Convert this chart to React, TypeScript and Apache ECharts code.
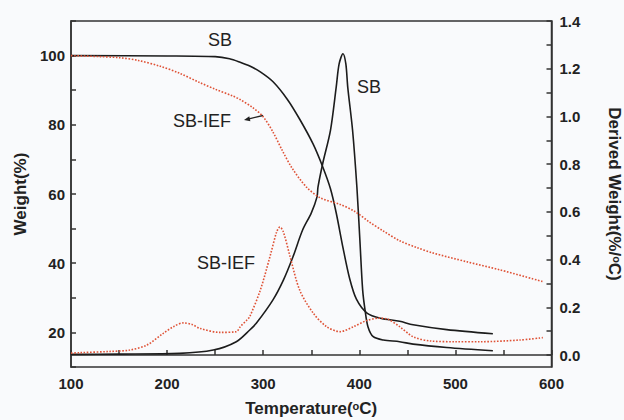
import React, { useEffect, useRef } from "react";
import * as echarts from "echarts";

// SB weight loss (TGA), left axis
const sbTgaTemp = [100, 200, 250, 265, 276, 286, 297, 310, 325, 338, 352, 362, 370, 376, 383, 390, 397, 408, 422, 442, 456, 491, 539];
const sbTgaWeight = [100, 99.9, 99.7, 99.1, 98.1, 97.0, 95.3, 92.5, 87.4, 81.6, 74.4, 67.8, 61.5, 54.5, 44.5, 35.5, 29.6, 25.6, 24.1, 23.2, 22.2, 20.8, 19.6];

// SB derivative weight (DTG), right axis
const sbDtgTemp = [100, 150, 213, 248, 272, 286, 293, 310, 321, 331, 341, 350, 356, 357, 362, 370, 376, 379, 383, 386, 388, 393, 397.5, 400.6, 403.5, 406, 409, 414.5, 425, 442, 456, 491, 539];
const sbDtgValue = [0.003, 0.004, 0.007, 0.021, 0.056, 0.105, 0.134, 0.23, 0.314, 0.412, 0.524, 0.595, 0.663, 0.704, 0.804, 0.942, 1.124, 1.22, 1.263, 1.22, 1.122, 0.942, 0.703, 0.482, 0.272, 0.188, 0.119, 0.077, 0.063, 0.056, 0.046, 0.032, 0.018];

// SB-IEF weight loss (TGA), left axis
const iefTgaTemp = [100, 130, 150, 170, 193, 213, 234, 250, 268.5, 276, 289, 300, 310, 320, 330, 345, 360, 380, 395, 410, 425, 442, 460, 476, 512, 546, 592];
const iefTgaWeight = [100, 99.7, 99.4, 98.6, 96.9, 94.9, 92.2, 90.3, 88.3, 87.3, 85.0, 82.3, 78, 72.5, 67.5, 62, 58.8, 57, 55, 52, 49.3, 46.5, 44.5, 43, 40.4, 38.1, 34.6];

// SB-IEF derivative weight (DTG), right axis
const iefDtgTemp = [100, 109, 140, 161, 179, 196, 207, 217, 226, 234, 255, 272, 276, 283, 286, 297, 307, 314, 317.4, 321, 328, 338, 352, 366, 380, 394, 408, 421, 430, 442, 456, 474, 500, 526, 567, 591];
const iefDtgValue = [0.008, 0.01, 0.015, 0.021, 0.042, 0.091, 0.12, 0.135, 0.128, 0.112, 0.095, 0.098, 0.118, 0.147, 0.161, 0.272, 0.412, 0.516, 0.537, 0.516, 0.412, 0.272, 0.176, 0.119, 0.098, 0.119, 0.145, 0.155, 0.15, 0.119, 0.077, 0.059, 0.056, 0.056, 0.063, 0.073];

// Axis ticks
const rightTickValues = [0, 0.1, 0.2, 0.3, 0.4, 0.5, 0.6, 0.7, 0.8, 0.9, 1.0, 1.1, 1.2, 1.3, 1.4];
const rightLabelValues = [0, 0.2, 0.4, 0.6, 0.8, 1.0, 1.2, 1.4];

const zip = (a: number[], b: number[]) => a.map((v, i) => [v, b[i]]);

const FONT = "'Liberation Sans', Arial, sans-serif";
const AXIS_COLOR = "#333";
const BLACK = "#1c1c1c";
const RED = "#df5236";

export default function App() {
  const ref = useRef<HTMLDivElement>(null);
  useEffect(() => {
    if (!ref.current) return;
    const chart = echarts.init(ref.current, undefined, { renderer: "svg" });
    const axisLine = { show: true, lineStyle: { color: AXIS_COLOR, width: 1.5 } };
    const tickStyle = { inside: true, length: 5, lineStyle: { color: AXIS_COLOR, width: 1.5 } };
    const labelStyle = { color: "#222", fontSize: 15, fontWeight: "bold" as const, fontFamily: FONT };
    const nameStyle = {
      color: "#222",
      fontSize: 17,
      fontWeight: "bold" as const,
      fontFamily: FONT,
      rich: { sup: { fontSize: 11, fontWeight: "bold" as const, fontFamily: FONT, verticalAlign: "top" as const, color: "#222" } },
    };
    const annStyle = { fill: "#222", fontSize: 18, fontFamily: FONT, align: "center", verticalAlign: "middle" };
    chart.setOption({
      animation: false,
      backgroundColor: "#f9fafc",
      grid: { left: 71, right: 72.5, top: 21, bottom: 53, show: true, borderColor: AXIS_COLOR, borderWidth: 1.5, outerBoundsMode: "none" },
      xAxis: {
        type: "value",
        min: 100,
        max: 600,
        interval: 50,
        name: "Temperature({sup|o}C)",
        nameLocation: "middle",
        nameGap: 33,
        nameTextStyle: nameStyle,
        axisLine,
        axisTick: tickStyle,
        splitLine: { show: false },
        axisLabel: { ...labelStyle, margin: 9, formatter: (v: number) => (v % 100 === 0 ? String(v) : "") },
      },
      yAxis: [
        {
          type: "value",
          min: 10,
          max: 110,
          interval: 10,
          position: "left",
          name: "Weight(%)",
          nameLocation: "middle",
          nameGap: 42,
          nameTextStyle: nameStyle,
          axisLine,
          axisTick: tickStyle,
          splitLine: { show: false },
          axisLabel: { ...labelStyle, margin: 6, formatter: (v: number) => (v % 20 === 0 && v <= 100 ? String(v) : "") },
        },
        {
          type: "value",
          min: -0.05,
          max: 1.4,
          position: "right",
          name: "Derived Weight(%/{sup|o}C)",
          nameLocation: "middle",
          nameRotate: -90,
          nameGap: 54,
          nameTextStyle: nameStyle,
          axisLine,
          axisTick: { ...tickStyle, customValues: rightTickValues },
          splitLine: { show: false },
          axisLabel: { ...labelStyle, margin: 8, customValues: rightLabelValues, formatter: (v: number) => v.toFixed(1) },
        },
      ],
      series: [
        {
          name: "SB TGA",
          type: "line",
          yAxisIndex: 0,
          data: zip(sbTgaTemp, sbTgaWeight),
          smooth: 0.3,
          showSymbol: false,
          lineStyle: { color: BLACK, width: 1.6 },
        },
        {
          name: "SB DTG",
          type: "line",
          yAxisIndex: 1,
          data: zip(sbDtgTemp, sbDtgValue),
          smooth: 0.3,
          showSymbol: false,
          lineStyle: { color: BLACK, width: 1.6 },
        },
        {
          name: "SB-IEF TGA",
          type: "line",
          yAxisIndex: 0,
          data: zip(iefTgaTemp, iefTgaWeight),
          smooth: 0.3,
          showSymbol: false,
          lineStyle: { color: RED, width: 1.6, type: "dotted" },
        },
        {
          name: "SB-IEF DTG",
          type: "line",
          yAxisIndex: 1,
          data: zip(iefDtgTemp, iefDtgValue),
          smooth: 0.3,
          showSymbol: false,
          lineStyle: { color: RED, width: 1.6, type: "dotted" },
        },
      ],
      graphic: [
        { type: "text", x: 220, y: 40, style: { ...annStyle, text: "SB" } },
        { type: "text", x: 369, y: 87, style: { ...annStyle, text: "SB" } },
        { type: "text", x: 202, y: 121, style: { ...annStyle, text: "SB-IEF" } },
        { type: "text", x: 226, y: 263, style: { ...annStyle, text: "SB-IEF" } },
        { type: "line", shape: { x1: 249, y1: 118.8, x2: 263, y2: 115.5 }, style: { stroke: "#222", lineWidth: 1.3 } },
        { type: "polygon", shape: { points: [[244, 120], [250.4, 121.2], [249.3, 116.2]] }, style: { fill: "#222" } },
      ],
    });
    return () => chart.dispose();
  }, []);
  return <div ref={ref} style={{ position: "fixed", left: 0, top: 0, width: 624, height: 420 }} />;
}
